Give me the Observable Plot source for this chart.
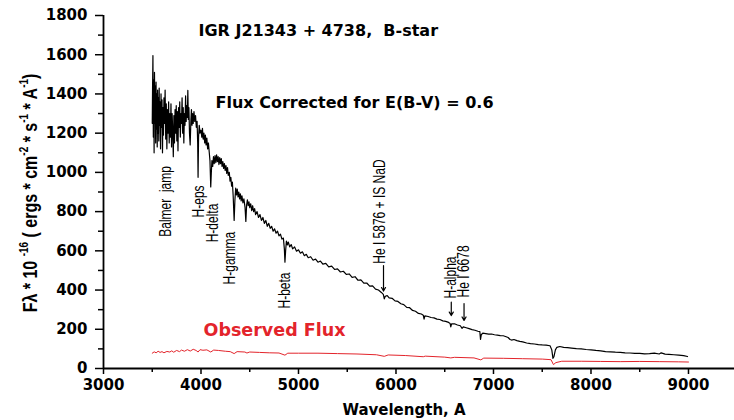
<!DOCTYPE html>
<html><head><meta charset="utf-8">
<script src="https://cdn.jsdelivr.net/npm/d3@7"></script>
<script src="https://cdn.jsdelivr.net/npm/@observablehq/plot@0.6"></script>
<style>html,body{margin:0;padding:0;background:#fff} svg{display:block}</style>
</head><body><div id="chart"></div>
<script>
// Flux corrected for E(B-V)=0.6 (black)
const corrLambda = [3500,3503,3507,3511,3515,3519,3523,3527,3531,3535,3539,3543,3547,3551,3555,3559,3563,3567,3571,3575,3580,3585,3590,3595,3600,3605,3610,3615,3620,3626,3632,3638,3644,3650,3656,3662,3668,3674,3680,3686,3692,3698,3704,3710,3716,3722,3728,3734,3740,3746,3752,3758,3764,3770,3776,3782,3788,3794,3800,3806,3812,3818,3824,3830,3836,3842,3848,3854,3860,3865,3870,3876,3882,3889,3896,3902,3908,3914,3920,3928,3936,3944,3952,3960,3966,3970,3975,3982,3990,
4000,4008,4015,4022,4030,4038,4045,4052,4060,4068,4076,4085,4092,4100,4106,4112,4120,4128,4136,4144,4152,4160,4168,4176,4184,4192,4200,4208,4216,4224,4232,4240,4248,4256,4264,4272,4280,4290,4298,4306,4314,4322,4330,4340,4348,4356,4364,4372,4380,4388,4396,4404,4412,4420,4430,4440,4452,4460,4468,4476,4484,4492,4500,4510,4520,4530,4540,4550,4560,4575,4590,4605,4620,4635,4650,4665,4680,4695,4710,4725,4740,4755,4770,4785,4800,4815,4830,4845,4855,4861,4868,4876,4885,4895,4910,4925,4940,4960,4980,
5000,5020,5040,5060,5080,5100,5125,5150,5175,5200,5225,5250,5280,5310,5340,5370,5400,5430,5460,5490,5520,5550,5580,5610,5640,5670,5700,5730,5760,5790,5820,5850,5870,5880,5890,5910,5930,5960,5990,6020,6050,6080,6110,6140,6170,6200,6230,6260,6280,6288,6296,6330,6360,6390,6420,6450,6480,6510,6540,6555,6562,6570,6600,6630,6660,6678,6690,6720,6750,6780,6810,6840,6860,6867,6875,6890,6920,6950,6980,
7010,7040,7070,7100,7130,7150,7170,7185,7210,7240,7270,7300,7340,7380,7420,7460,7500,7540,7580,7598,7610,7620,7635,7650,7680,7720,7760,7800,7850,7900,7950,8000,8050,8100,8150,8200,8250,8300,8350,8400,8450,8500,8550,8600,8650,8700,8720,8760,8800,8850,8900,8950,8990];
const corrFlux = [1250,1420,1596,1180,1470,1100,1510,1250,1440,1150,1460,1220,1400,1130,1420,1200,1380,1160,1430,1240,1360,1120,1400,1230,1370,1100,1330,1190,1380,1250,1420,1170,1350,1120,1320,1200,1360,1150,1300,1180,1350,1130,1300,1210,1080,1290,1150,1320,1200,1340,1160,1310,1110,1330,1230,1360,1180,1300,1250,1380,1200,1330,1150,1300,1240,1390,1260,1340,1280,1418,1270,1330,1200,1140,1260,1320,1240,1300,1250,1310,1260,1290,1230,1260,1150,975,1180,1240,1200,
1215,1180,1225,1170,1200,1150,1190,1140,1175,1120,1150,1100,1060,926,1000,1060,1030,1080,1045,1085,1050,1090,1055,1080,1040,1075,1045,1070,1030,1055,1020,1045,1010,1035,995,1025,985,1000,955,975,930,950,880,755,860,920,885,915,875,900,865,890,855,880,845,865,820,750,835,860,830,850,820,840,805,830,800,815,785,800,770,785,755,770,740,755,725,740,715,725,700,712,690,700,676,685,660,665,610,542,600,650,630,645,620,632,610,620,598,
605,588,595,575,582,565,570,552,558,542,548,532,536,518,522,505,508,492,496,480,482,465,468,450,452,435,436,420,421,405,400,388,378,355,368,372,360,358,345,342,330,326,312,310,296,292,281,278,272,252,268,265,260,258,252,250,243,240,235,230,212,228,228,222,218,205,212,208,203,198,195,190,188,148,172,180,178,175,176,
172,170,168,167,162,158,148,145,148,142,138,136,130,127,125,122,120,119,116,95,52,60,95,108,112,108,106,104,101,100,97,95,92,90,86,85,83,82,80,79,77,77,75,76,78,74,80,73,72,70,68,66,61];

// Observed flux (red)
const obsLambda = [3500,3520,3540,3560,3580,3600,3620,3650,3680,3700,3720,3750,3780,3800,3830,3860,3890,3920,3950,3970,3990,4020,4060,4100,4130,4180,4250,4300,4340,4370,4450,4471,4500,4600,4700,4800,4861,4890,5000,5200,5400,5600,5800,5880,5920,6100,6280,6300,6500,6562,6600,6800,6870,6900,7100,7300,7500,7590,7615,7640,7700,7900,8100,8300,8500,8700,8900,9000];
const obsFlux = [78,85,80,88,82,86,80,87,84,90,83,92,86,94,88,96,89,98,92,84,96,93,95,84,94,92,88,86,76,86,84,79,84,82,80,79,68,78,78,78,76,74,70,62,69,66,60,63,58,54,57,54,44,53,52,50,48,45,20,30,37,37,36,35,36,35,34,33];

// Axis ticks
const xTicks = [3000,4000,5000,6000,7000,8000,9000];
const xMinor = [3500,4500,5500,6500,7500,8500];
const yTicks = [0,200,400,600,800,1000,1200,1400,1600,1800];
const yMinor = [100,300,500,700,900,1100,1300,1500,1700];

// Line annotations (rotated)
const annText = ["Balmer\u00a0\u00a0jamp","H-eps","H-delta","H-gamma","H-beta","He I 5876 + IS NaD","H-alpha","He I 6678"];
const annLambda = [3636,3980,4121,4300,4860,5841,6567,6698];
const annFlux = [852,852,742,563,398,800,464,495];

// Arrows
const arrLambda = [5872,6567,6698];
const arrFrom = [525,338,331];
const arrTo = [395,270,245];

// Titles
const titleText = ["IGR J21343 + 4738,\u00a0\u00a0B-star","Flux Corrected for E(B-V) = 0.6"];
const titleLambda = [3974,4149];
const titleFlux = [1724,1356];
const obsLabel = "Observed Flux";

const corr = corrLambda.map((x,i)=>({x, y: corrFlux[i]}));
const obs = obsLambda.map((x,i)=>({x, y: obsFlux[i]}));
const ann = annText.map((t,i)=>({t, x: annLambda[i], y: annFlux[i]}));
const arr = arrLambda.map((x,i)=>({x, y1: arrFrom[i], y2: arrTo[i]}));
const titles = titleText.map((t,i)=>({t, x: titleLambda[i], y: titleFlux[i]}));

const red = "#e3242b";
const plot = Plot.plot({
  width: 734, height: 420,
  marginLeft: 103, marginRight: 0, marginTop: 15, marginBottom: 52,
  x: {domain: [3000, 9472]},
  y: {domain: [0, 1800]},
  style: {fontFamily: "DejaVu Sans", fontSize: "15px", fontWeight: "bold", color: "#000", background: "#fff", overflow: "visible"},
  marks: [
    Plot.axisX({ticks: xTicks, tickSize: 6, tickPadding: 5, tickFormat: d => String(d), label: null, strokeWidth: 1.5}),
    Plot.axisX({ticks: xMinor, tickSize: 4, tickFormat: () => "", label: null, strokeWidth: 1.5}),
    Plot.axisY({ticks: yTicks, tickSize: 8, tickPadding: 8, tickFormat: d => String(d), label: null, strokeWidth: 1.5}),
    Plot.axisY({ticks: yMinor, tickSize: 5, tickFormat: () => "", label: null, strokeWidth: 1.5}),
    Plot.ruleY([0], {strokeWidth: 1.8}),
    Plot.ruleX([3000], {strokeWidth: 1.8}),
    Plot.line(obs, {x: "x", y: "y", stroke: red, strokeWidth: 1}),
    Plot.line(corr, {x: "x", y: "y", stroke: "#000", strokeWidth: 1.2}),
    Plot.text(ann, {x: "x", y: "y", text: "t", rotate: -90, textAnchor: "middle", fontFamily: "Liberation Sans, Arial", fontWeight: "normal", fontSize: 12, fill: "#000"}),
    Plot.arrow(arr, {x1: "x", x2: "x", y1: "y1", y2: "y2", headLength: 5, strokeWidth: 1.2, stroke: "#000"}),
    Plot.text(titles, {x: "x", y: "y", text: "t", textAnchor: "start", fontFamily: "DejaVu Sans", fontWeight: "bold", fontSize: 16, fill: "#000"}),
    Plot.text([obsLabel], {x: 4026, y: 194, text: d => d, textAnchor: "start", fontFamily: "DejaVu Sans", fontWeight: "bold", fontSize: 17.5, fill: red})
  ]
});

const svg = d3.select(plot);
// widen the rotated annotation glyphs (the reference is horizontally stretched)
svg.selectAll("text").each(function() {
  const t = this.getAttribute("transform");
  if (t && t.includes("rotate(-90)")) this.setAttribute("transform", t + " scale(1,1.3)");
});
const yl = svg.append("text")
  .attr("transform", "translate(31,193) scale(1.3,1) rotate(-90)")
  .attr("text-anchor", "middle")
  .attr("dominant-baseline", "middle")
  .attr("font-family", "Liberation Sans, Arial")
  .attr("font-size", 16)
  .attr("font-weight", "bold")
  .attr("fill", "#000");
const parts = [["F\u03bb * 10 ",0],["-16",1],[" ( ergs * cm",0],["-2",1],[" * s",0],["-1",1],[" * A",0],["-1",1],[")",0]];
parts.forEach(([s, sup]) => {
  const ts = yl.append("tspan").text(s);
  if (sup) ts.attr("font-size", 10).attr("baseline-shift", "super");
});
svg.append("text")
  .attr("x", 404).attr("y", 410)
  .attr("text-anchor", "middle").attr("dominant-baseline", "middle")
  .attr("font-family", "DejaVu Sans").attr("font-weight", "bold").attr("font-size", 15)
  .attr("fill", "#000").text("Wavelength, A");

document.getElementById("chart").appendChild(plot);
</script>
</body></html>
